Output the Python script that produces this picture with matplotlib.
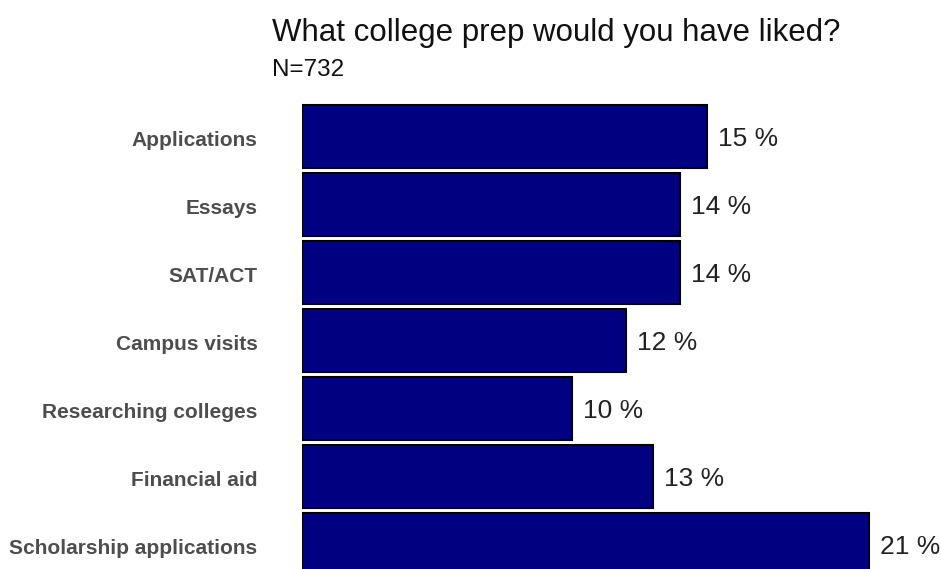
import matplotlib
matplotlib.use("Agg")
import matplotlib.pyplot as plt
import matplotlib.transforms as mtransforms

# survey answers, top to bottom as in the picture
categories = ["Applications", "Essays", "SAT/ACT", "Campus visits",
              "Researching colleges", "Financial aid", "Scholarship applications"]
percent = [15, 14, 14, 12, 10, 13, 21]
title = "What college prep would you have liked?"
subtitle = "N=732"

plt.rcParams['font.family'] = ['Liberation Sans', 'DejaVu Sans']

W, H = 941, 569
fig = plt.figure(figsize=(W / 100, H / 100), dpi=100)

# axes from bar base (x=302px) to right edge, top 100px to bottom
ax = fig.add_axes([302 / W, 0, 1 - 302 / W, 1 - 100 / H])

pos = list(range(len(categories)))
ax.barh(pos, percent, height=0.92, color="#000080", edgecolor="black", linewidth=1.5)

for p, v in zip(pos, percent):
    ax.annotate(f"{v} %", (v, p), xytext=(8, -2), textcoords="offset points",
                va="center", ha="left", fontsize=19, color="#222222")

ax.set_xlim(0, (W - 302) / 27.0)
ax.set_ylim(6.36, -0.537)
ax.set_yticks(pos)
ax.set_yticklabels(categories, fontsize=15, fontweight="bold", color="#4d4d4d")
ax.tick_params(axis="y", length=0, pad=32)
ax.set_xticks([])
for s in ax.spines.values():
    s.set_visible(False)

# nudge category labels down a little
shift = mtransforms.ScaledTranslation(0, -2 / 100, fig.dpi_scale_trans)
for lbl in ax.get_yticklabels():
    lbl.set_transform(lbl.get_transform() + shift)

fig.text(272 / W, 1 - 41 / H, title, fontsize=22.5, va="baseline", ha="left", color="#111111")
fig.text(272 / W, 1 - 76 / H, subtitle, fontsize=17.5, va="baseline", ha="left", color="#111111")

fig.savefig("out.png", dpi=100)
